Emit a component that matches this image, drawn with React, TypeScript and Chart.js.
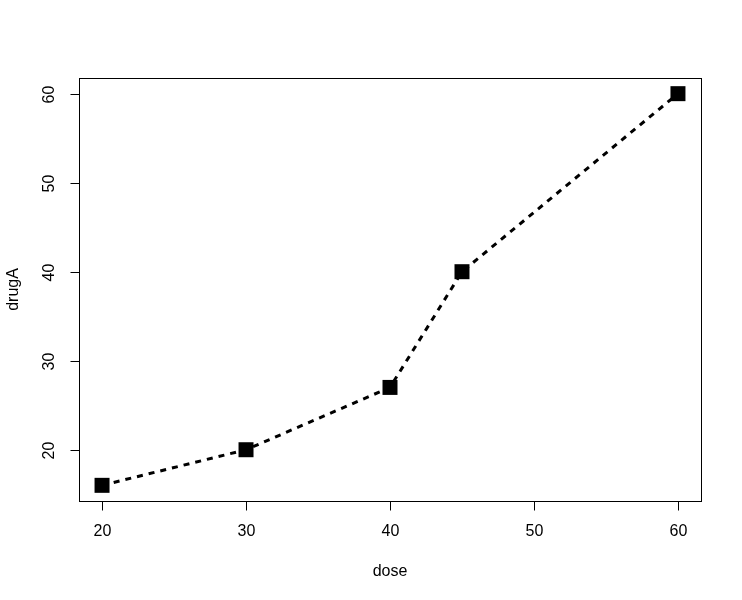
import React, { useEffect, useRef } from "react";
import { Chart, registerables } from "chart.js";

Chart.register(...registerables);

const dose = [20, 30, 40, 45, 60];
const drugA = [16, 20, 27, 40, 60];
const xTicks = [20, 30, 40, 50, 60];
const yTicks = [20, 30, 40, 50, 60];
const xLabel = "dose";
const yLabel = "drugA";

const FONT = '16px "Liberation Sans", Arial, sans-serif';

const axesPlugin = {
  id: "rAxes",
  afterDraw(chart: any) {
    const { ctx, chartArea } = chart;
    const xs = chart.scales.x;
    const ys = chart.scales.y;
    ctx.save();
    ctx.strokeStyle = "#000";
    ctx.lineWidth = 1;
    ctx.setLineDash([]);
    ctx.strokeRect(
      Math.round(chartArea.left) + 0.5,
      Math.round(chartArea.top) + 0.5,
      Math.round(chartArea.right - chartArea.left),
      Math.round(chartArea.bottom - chartArea.top)
    );
    ctx.fillStyle = "#000";
    ctx.font = FONT;
    const by = Math.round(chartArea.bottom) + 0.5;
    const x0 = Math.round(xs.getPixelForValue(xTicks[0])) + 0.5;
    const x1 = Math.round(xs.getPixelForValue(xTicks[xTicks.length - 1])) + 0.5;
    ctx.beginPath();
    ctx.moveTo(x0, by);
    ctx.lineTo(x1, by);
    ctx.stroke();
    ctx.textAlign = "center";
    ctx.textBaseline = "middle";
    xTicks.forEach((t) => {
      const px = Math.round(xs.getPixelForValue(t)) + 0.5;
      ctx.beginPath();
      ctx.moveTo(px, by);
      ctx.lineTo(px, by + 9);
      ctx.stroke();
      ctx.fillText(String(t), px, 532);
    });
    ctx.fillText(xLabel, (chartArea.left + chartArea.right) / 2, 572);
    const lx = Math.round(chartArea.left) + 0.5;
    const y0 = Math.round(ys.getPixelForValue(yTicks[0])) + 0.5;
    const y1 = Math.round(ys.getPixelForValue(yTicks[yTicks.length - 1])) + 0.5;
    ctx.beginPath();
    ctx.moveTo(lx, y0);
    ctx.lineTo(lx, y1);
    ctx.stroke();
    yTicks.forEach((t) => {
      const py = Math.round(ys.getPixelForValue(t)) + 0.5;
      ctx.beginPath();
      ctx.moveTo(lx, py);
      ctx.lineTo(lx - 9, py);
      ctx.stroke();
      ctx.save();
      ctx.translate(50, py);
      ctx.rotate(-Math.PI / 2);
      ctx.fillText(String(t), 0, 0);
      ctx.restore();
    });
    ctx.save();
    ctx.translate(14, (chartArea.top + chartArea.bottom) / 2);
    ctx.rotate(-Math.PI / 2);
    ctx.fillText(yLabel, 0, 0);
    ctx.restore();
    ctx.restore();
  },
};

export default function App() {
  const ref = useRef<HTMLCanvasElement | null>(null);
  useEffect(() => {
    if (!ref.current) return;
    const chart = new Chart(ref.current, {
      type: "line",
      data: {
        datasets: [
          {
            data: dose.map((d, i) => ({ x: d, y: drugA[i] })),
            borderColor: "#000",
            borderWidth: 3,
            borderDash: [6, 6],
            backgroundColor: "#000",
            pointStyle: "rect",
            pointRadius: 10.6,
            pointBorderWidth: 0,
            pointBackgroundColor: "#000",
            tension: 0,
            fill: false,
          },
        ],
      },
      options: {
        animation: false,
        responsive: false,
        devicePixelRatio: 1,
        layout: { padding: { left: 79, right: 41, top: 78, bottom: 99 } },
        plugins: { legend: { display: false }, tooltip: { enabled: false } },
        scales: {
          x: { type: "linear", min: 18.4, max: 61.6, display: false },
          y: { type: "linear", min: 14.24, max: 61.76, display: false },
        },
      },
      plugins: [axesPlugin],
    });
    return () => chart.destroy();
  }, []);
  return (
    <div style={{ position: "fixed", left: 0, top: 0, width: 742, height: 600, background: "#fff" }}>
      <canvas ref={ref} width={742} height={600} />
    </div>
  );
}
